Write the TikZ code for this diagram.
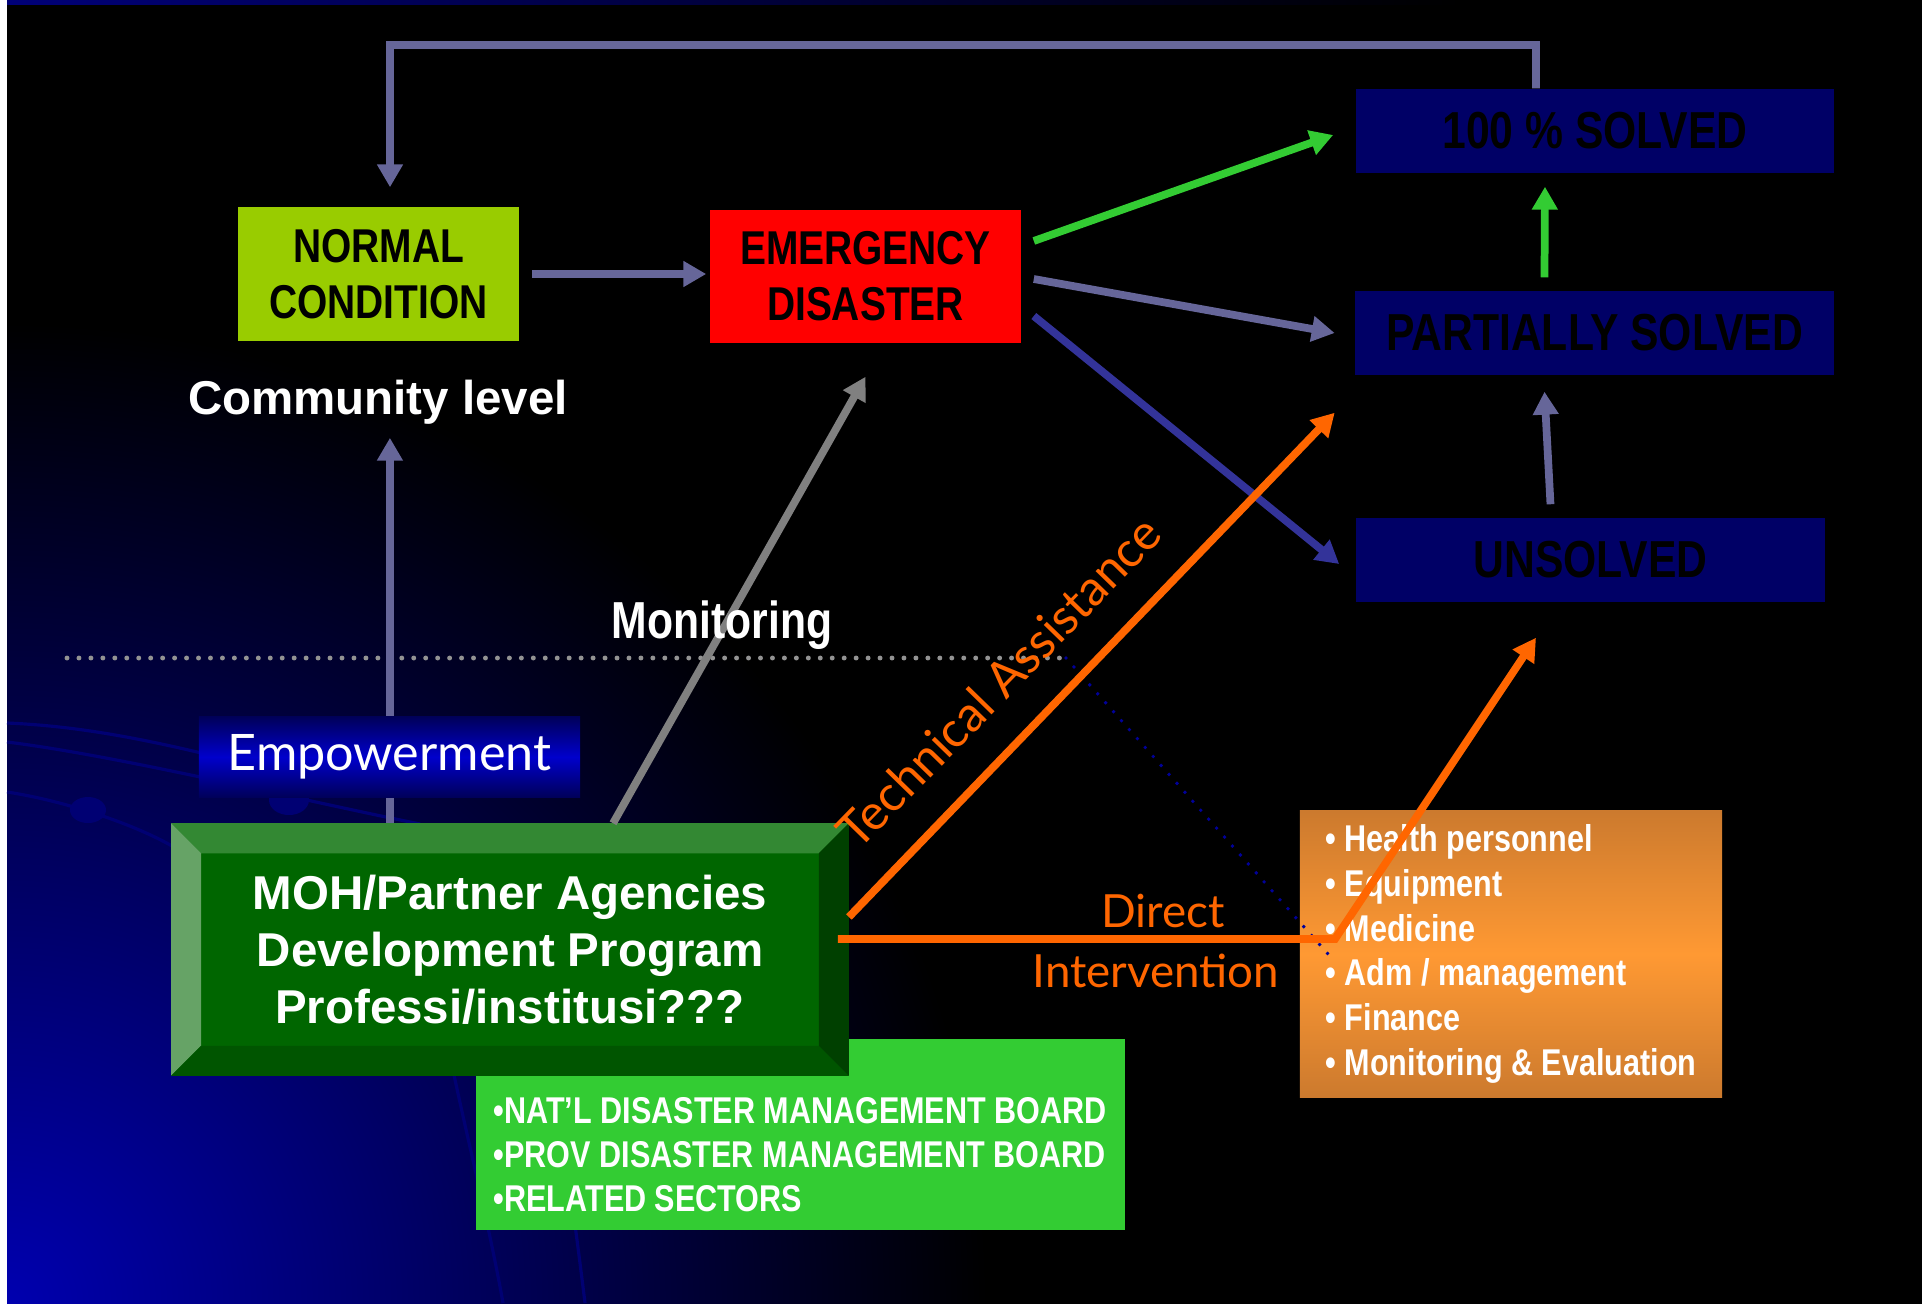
\documentclass[tikz,border=0pt]{standalone}
\usepackage{fontspec}
\setmainfont{Liberation Sans}
\newfontfamily\narrowfont[FakeStretch=0.82]{Liberation Sans}
\newfontfamily\handfont{Lato}
\usetikzlibrary{arrows.meta}
\definecolor{navybox}{RGB}{0,0,102}
\definecolor{normalgreen}{RGB}{153,204,0}
\definecolor{listgreen}{RGB}{51,204,51}
\definecolor{slate}{RGB}{102,102,153}
\definecolor{dkblue}{RGB}{51,51,153}
\definecolor{orng}{RGB}{255,102,0}
\definecolor{gry}{RGB}{128,128,128}
\definecolor{dotblue}{RGB}{0,0,153}
\definecolor{decoblue}{RGB}{0,0,115}
\definecolor{mohface}{RGB}{0,102,0}
\definecolor{mohtop}{RGB}{51,136,51}
\definecolor{mohleft}{RGB}{102,163,102}
\definecolor{mohbot}{RGB}{0,85,0}
\definecolor{mohright}{RGB}{0,64,0}
\definecolor{resdark}{RGB}{204,122,46}
\definecolor{reslight}{RGB}{255,153,51}
\definecolor{empdark}{RGB}{0,0,90}
\definecolor{emplight}{RGB}{0,0,204}

\begin{document}
\begin{tikzpicture}[x=0.01cm,y=-0.01cm,
      flow/.style={line width=2.2pt,-{Triangle[length=6.5pt,width=7pt]}},
      statebox/.style={inner sep=0pt,align=center,text=black,
        font=\narrowfont\bfseries\fontsize{13.5}{16}\selectfont},
      resultbox/.style={fill=navybox,inner sep=0pt,minimum width=4.78cm,minimum height=0.84cm,
        text=black,font=\narrowfont\bfseries\fontsize{14.8}{17}\selectfont},
      plainlabel/.style={inner sep=0pt,text=white,font=\bfseries\fontsize{13.5}{16}\selectfont},
      handlabel/.style={inner sep=0pt,text=orng,font=\handfont\fontsize{13}{15}\selectfont},
      listtext/.style={inner sep=0pt,align=left,text=white,
        font=\narrowfont\bfseries\fontsize{10.6}{12.7}\selectfont},
      deco/.style={decoblue,line width=0.9pt}]
      \useasboundingbox (0,0) rectangle (1922,1303);
      \fill[white] (-20,-20) rectangle (7,1330);
      \fill[black] (7,-20) rectangle (1950,1330);
      \begin{scope}
        \clip (7,-20) rectangle (1950,1330);
        \shade[inner color={rgb,255:red,0;green,0;blue,175},outer color=black] (7,1303) circle[radius=980];
        \shade[left color={rgb,255:red,0;green,0;blue,120},right color=black] (7,0) rectangle (1460,4);
      \end{scope}
      \draw[deco] (7,723) .. controls (80,726) and (150,740) .. (230,760);
      \draw[deco] (7,742) .. controls (120,756) and (300,800) .. (420,824);
      \draw[deco] (7,792) .. controls (60,800) and (130,822) .. (172,846);
      \draw[deco] (454,1075) .. controls (470,1150) and (490,1230) .. (503,1303);
      \draw[deco] (555,1075) .. controls (565,1150) and (576,1230) .. (585,1303);
      \fill[decoblue] (88,810) ellipse[x radius=18,y radius=13];
      \fill[decoblue] (289,800) ellipse[x radius=20,y radius=15];

      \coordinate (divl) at (67,658);
      \coordinate (divr) at (1066,658);
      \coordinate (divend) at (1328,954);
      \draw[gray!85,line width=1.4pt,line cap=round,dash pattern=on 0pt off 3.4pt] (divl) -- (divr);

      \node[statebox,fill=normalgreen,minimum width=2.81cm,minimum height=1.34cm] (normal) at (378.5,274) {NORMAL\\CONDITION};
      \node[statebox,fill=red,minimum width=3.11cm,minimum height=1.33cm] (emergency) at (865.5,276.5) {EMERGENCY\\DISASTER};
      \node[resultbox] (solved) at (1595,131) {100 \% SOLVED};
      \node[resultbox] (partial) at (1594.5,333) {PARTIALLY SOLVED};
      \node[resultbox,minimum width=4.69cm] (unsolved) at (1590.5,560) {UNSOLVED};
      \node[plainlabel] (community) at (378,402) {Community level};

      \node[fill=listgreen,minimum width=6.49cm,minimum height=1.91cm] (boards) at (800.5,1134.5) {};
      \node[listtext,anchor=west,font=\narrowfont\bfseries\fontsize{10.6}{12.5}\selectfont] (boardlist) at (493,1155)
        {•NAT’L DISASTER MANAGEMENT BOARD\\•PROV DISASTER MANAGEMENT BOARD\\•RELATED SECTORS};

      \node[fill=mohface,inner sep=0pt,minimum width=6.76cm,minimum height=2.51cm,align=center,text=white,
        font=\bfseries\fontsize{13.5}{16.2}\selectfont] (moh) at (510,949.5)
        {MOH/Partner Agencies\\Development Program\\Professi/institusi???};
      \fill[mohtop] (moh.north west) -- (moh.north east) -- ([shift={(-0.3cm,-0.3cm)}]moh.north east) -- ([shift={(0.3cm,-0.3cm)}]moh.north west) -- cycle;
      \fill[mohleft] (moh.north west) -- ([shift={(0.3cm,-0.3cm)}]moh.north west) -- ([shift={(0.3cm,0.3cm)}]moh.south west) -- (moh.south west) -- cycle;
      \fill[mohbot] (moh.south west) -- ([shift={(0.3cm,0.3cm)}]moh.south west) -- ([shift={(-0.3cm,0.3cm)}]moh.south east) -- (moh.south east) -- cycle;
      \fill[mohright] (moh.south east) -- ([shift={(-0.3cm,0.3cm)}]moh.south east) -- ([shift={(-0.3cm,-0.3cm)}]moh.north east) -- (moh.north east) -- cycle;

      \coordinate (emp) at ([xshift=-1.2cm]moh.north);
      \draw[flow,slate,shorten >=0.13cm] (emp) -- (emp |- community.south);
      \node[top color=empdark,bottom color=empdark,middle color=emplight,minimum width=3.81cm,minimum height=0.8cm,
        text=white,font=\handfont\fontsize{14.3}{16}\selectfont] (empower) at (389.5,757) {Empowerment};

      \node[listtext,top color=resdark,bottom color=resdark,middle color=reslight,
        minimum width=4.22cm,minimum height=2.86cm] (resources) at (1511,954)
        {• Health personnel\\• Equipment\\• Medicine\\• Adm / management\\• Finance\\• Monitoring \& Evaluation};
      \draw[dotblue,line width=1.1pt,line cap=round,dash pattern=on 0pt off 3.4pt] (divr) -- (divend);

      \draw[flow,slate,shorten <=0.12cm,shorten >=0.03cm] (normal.east) -- (normal.east -| emergency.west);
      \draw[flow,listgreen] ([xshift=0.12cm,yshift=0.355cm]emergency.east) -- ([xshift=-0.22cm,yshift=-0.04cm]solved.west);
      \draw[flow,slate] ([xshift=0.12cm,yshift=-0.025cm]emergency.east) -- ([xshift=-0.2cm]partial.west);
      \draw[flow,dkblue] ([xshift=0.12cm,yshift=-0.395cm]emergency.east) -- ([xshift=-0.16cm,yshift=-0.04cm]unsolved.west);
      \coordinate (loop) at (390,45);
      \draw[flow,slate] ([xshift=-0.59cm]solved.north) |- (loop) -- ([xshift=0.115cm,yshift=0.19cm]normal.north);
      \draw[flow,listgreen] ([xshift=-0.5cm,yshift=0.13cm]partial.north) -- ([xshift=-0.5cm,yshift=-0.13cm]solved.south);
      \draw[flow,slate] ([xshift=-0.4cm,yshift=0.13cm]unsolved.north) -- ([xshift=-0.5cm,yshift=-0.16cm]partial.south);
      \draw[flow,gry] ([xshift=1.03cm]moh.north) -- ([yshift=-0.33cm]emergency.south);
      \draw[flow,orng] ([yshift=0.325cm]moh.east) -- ([xshift=-0.2cm,yshift=-0.37cm]partial.south west);
      \coordinate (bend) at (1335,939);
      \draw[flow,orng] ([xshift=-0.11cm,yshift=0.105cm]moh.east) -- (bend) -- ([xshift=-0.545cm,yshift=-0.35cm]unsolved.south);

      \node[plainlabel,anchor=base,font=\narrowfont\bfseries\fontsize{14.8}{16}\selectfont] (monitoring) at (722,638) {Monitoring};
      \node[handlabel,rotate=45.8,font=\handfont\fontsize{14}{16}\selectfont] (techlabel) at (999,682) {Technical Assistance};
      \node[handlabel] (directlabel) at (1163,911) {Direct};
      \node[handlabel] (intervlabel) at (1156,971) {Intervention};
    \end{tikzpicture}
\end{document}
